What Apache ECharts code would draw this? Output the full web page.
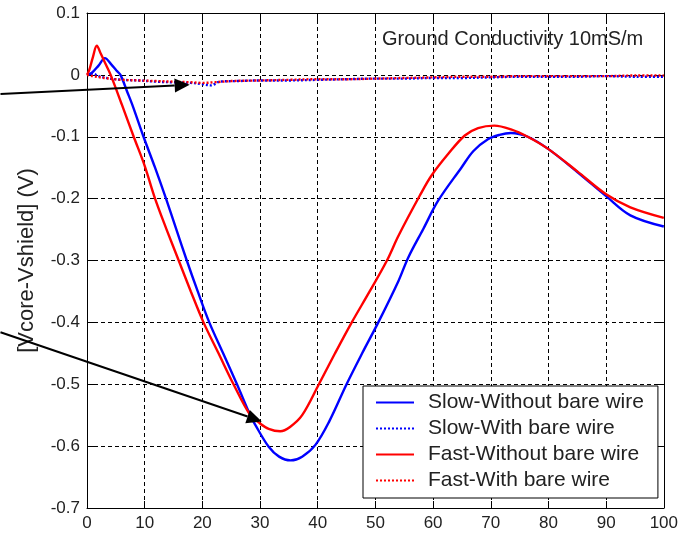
<!DOCTYPE html>
<html><head><meta charset="utf-8">
<script src="https://cdn.jsdelivr.net/npm/echarts@6/dist/echarts.min.js"></script>
<style>html,body{margin:0;padding:0;background:#fff;}#c{width:681px;height:540px;}</style>
</head><body><div id="c"></div>
<script>
// ---- data (time in x units, voltage in V) ----
const slowWithoutT = [0,0.8,2,3.1,4.2,5.1,5.8,7,8,9.8,11.8,13.7,15.5,17.3,19.2,21.2,23.6,26,28.3,29.2,31.5,33.3,35.3,37.3,39.6,42,45,47.7,50.5,54,55.7,58.3,60.9,64.9,67,69.5,71.5,73.5,76.4,80,85,90,94.2,100];
const slowWithoutV = [0,0.003,0.015,0.027,0.017,0.007,0,-0.028,-0.052,-0.1,-0.15,-0.2,-0.25,-0.3,-0.35,-0.4,-0.45,-0.5,-0.55,-0.566,-0.601,-0.617,-0.623,-0.617,-0.598,-0.56,-0.5,-0.45,-0.4,-0.333,-0.295,-0.249,-0.203,-0.15,-0.123,-0.104,-0.097,-0.094,-0.1,-0.12,-0.157,-0.196,-0.227,-0.245];

const slowWithT = [0,1,2,4,6,9,12,15,18,20,21.5,23,26,30,35,40,45,50,55,60,65,70,75,80,85,90,95,100];
const slowWithV = [0,0.002,-0.002,-0.006,-0.008,-0.009,-0.011,-0.012,-0.013,-0.015,-0.017,-0.011,-0.01,-0.009,-0.009,-0.008,-0.007,-0.006,-0.006,-0.005,-0.005,-0.004,-0.003,-0.003,-0.003,-0.002,-0.003,-0.003];

const fastWithoutT = [0,0.4,1,1.7,2.4,3.1,4.1,6,8.1,10,11.8,13.8,15.9,18,20.2,22.8,25.4,28.3,29.8,31.5,33.5,35.2,37.3,40.2,43,45.9,49,52,54,57.7,59.7,62.6,65.5,67.8,70.6,73.5,76.4,80,85,90,94.2,100];
const fastWithoutV = [0,0.008,0.028,0.047,0.034,0.02,0,-0.047,-0.1,-0.147,-0.2,-0.25,-0.3,-0.35,-0.4,-0.45,-0.5,-0.55,-0.562,-0.572,-0.576,-0.569,-0.55,-0.5,-0.45,-0.4,-0.35,-0.3,-0.26,-0.195,-0.163,-0.128,-0.098,-0.086,-0.082,-0.088,-0.1,-0.12,-0.156,-0.193,-0.214,-0.231];

const fastWithT = [0,1,3,6,9,12,15,18,20,22,25,30,35,40,45,50,55,60,65,70,75,80,85,90,95,100];
const fastWithV = [0,-0.002,-0.005,-0.008,-0.009,-0.01,-0.011,-0.012,-0.013,-0.012,-0.01,-0.009,-0.008,-0.007,-0.007,-0.006,-0.005,-0.004,-0.003,-0.003,-0.002,-0.002,-0.002,-0.002,-0.001,-0.001];

const seriesNames = ['Slow-Without bare wire','Slow-With bare wire','Fast-Without bare wire','Fast-With bare wire'];
const xRange = [0, 100, 10];
const yRange = [-0.7, 0.1, 0.1];
const yAxisTitle = '[Vcore-Vshield] (V)';
const noteText = 'Ground Conductivity 10mS/m';
// annotation arrows, in data coordinates [start, tip]
const arrows = [
  [[-15, -0.031], [17.8, -0.016]],
  [[-15, -0.416], [30.3, -0.56]]
];

const zip = (t, v) => t.map((x, i) => [x, v[i]]);
const FONT = '"Liberation Sans", Arial, sans-serif';

function mkSeries(name, t, v, color, dotted) {
  return {
    name, type: 'line', data: zip(t, v), symbol: 'none', showSymbol: false,
    smooth: 0.35, animation: false, clip: true,
    lineStyle: { color, width: dotted ? 2.4 : 2.4, type: dotted ? [2, 2] : 'solid' },
    itemStyle: { color }
  };
}

const chart = echarts.init(document.getElementById('c'), null, { renderer: 'canvas' });
const axisCommon = {
  type: 'value',
  axisLine: { show: true, onZero: false, lineStyle: { color: '#000', width: 1 } },
  axisTick: { show: true, inside: true, length: 7, lineStyle: { color: '#000', width: 1 } },
  splitLine: { show: false }
};
const noteGraphic = {
  type: 'text', left: 382, top: 29, silent: true,
  style: { text: noteText, font: '20px ' + FONT, fill: '#222' }
};
chart.setOption({
  animation: false,
  backgroundColor: '#fff',
  grid: { left: 87, right: 14, top: 13, bottom: 32, containLabel: false },
  xAxis: [
    Object.assign({}, axisCommon, {
      position: 'bottom', min: xRange[0], max: xRange[1], interval: xRange[2],
      axisLabel: { fontSize: 17, color: '#222', margin: 7, fontFamily: FONT },
      splitLine: { show: true, lineStyle: { color: '#000', width: 1, type: [4, 3] } }
    }),
    Object.assign({}, axisCommon, {
      position: 'top', min: xRange[0], max: xRange[1], interval: xRange[2],
      axisLabel: { show: false }
    })
  ],
  yAxis: [
    Object.assign({}, axisCommon, {
      position: 'left', min: yRange[0], max: yRange[1], interval: yRange[2],
      name: yAxisTitle, nameLocation: 'middle', nameGap: 49,
      nameTextStyle: { fontSize: 22, color: '#222', fontFamily: FONT },
      axisLabel: { fontSize: 17, color: '#222', margin: 7, fontFamily: FONT },
      splitLine: { show: true, lineStyle: { color: '#000', width: 1, type: [4, 3] } }
    }),
    Object.assign({}, axisCommon, {
      position: 'right', min: yRange[0], max: yRange[1], interval: yRange[2],
      axisLabel: { show: false }
    })
  ],
  legend: {
    orient: 'vertical', left: 363, top: 386,
    padding: [6, 14, 7, 12], itemGap: 5, itemWidth: 38, itemHeight: 14,
    itemStyle: { opacity: 0 },
    backgroundColor: '#fff', borderColor: '#000', borderWidth: 1, borderRadius: 0,
    textStyle: { fontSize: 21, color: '#222', fontFamily: FONT, lineHeight: 21, padding: [0, 0, 0, 9] },
    data: seriesNames,
    selectedMode: false
  },
  graphic: [noteGraphic],
  series: [
    mkSeries(seriesNames[0], slowWithoutT, slowWithoutV, '#0000ff', false),
    mkSeries(seriesNames[1], slowWithT, slowWithV, '#0000ff', true),
    mkSeries(seriesNames[2], fastWithoutT, fastWithoutV, '#ff0000', false),
    mkSeries(seriesNames[3], fastWithT, fastWithV, '#ff0000', true)
  ]
});

// annotation arrows
const arrowEls = [];
arrows.forEach((a) => {
  const p0 = chart.convertToPixel({ xAxisIndex: 0, yAxisIndex: 0 }, a[0]);
  const p1 = chart.convertToPixel({ xAxisIndex: 0, yAxisIndex: 0 }, a[1]);
  const dx = p1[0] - p0[0], dy = p1[1] - p0[1];
  const L = Math.hypot(dx, dy), ux = dx / L, uy = dy / L;
  const hl = 15, hw = 7;
  const bx = p1[0] - ux * hl, by = p1[1] - uy * hl;
  arrowEls.push({
    type: 'line', z: 100, silent: true,
    shape: { x1: p0[0], y1: p0[1], x2: bx, y2: by },
    style: { stroke: '#000', lineWidth: 2 }
  });
  arrowEls.push({
    type: 'polygon', z: 100, silent: true,
    shape: { points: [[p1[0], p1[1]], [bx - uy * hw, by + ux * hw], [bx + uy * hw, by - ux * hw]] },
    style: { fill: '#000' }
  });
});
chart.setOption({ graphic: [noteGraphic].concat(arrowEls) });
</script>
</body></html>
